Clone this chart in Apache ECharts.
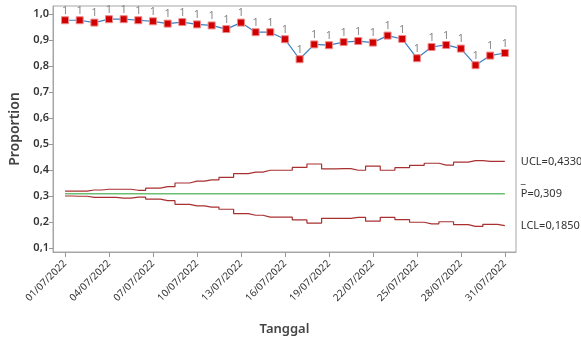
<!DOCTYPE html>
<html>
<head>
<meta charset="utf-8">
<script src="https://cdn.jsdelivr.net/npm/echarts@6/dist/echarts.min.js"></script>
<style>html,body{margin:0;padding:0;background:#fff}#c{width:581px;height:342px}</style>
</head>
<body>
<div id="c"></div>
<script>
const days = [1,2,3,4,5,6,7,8,9,10,11,12,13,14,15,16,17,18,19,20,21,22,23,24,25,26,27,28,29,30,31];
const proportion = [0.976,0.976,0.967,0.980,0.980,0.976,0.972,0.963,0.969,0.960,0.956,0.942,0.967,0.930,0.930,0.903,0.826,0.883,0.880,0.892,0.896,0.890,0.917,0.904,0.830,0.873,0.881,0.867,0.803,0.840,0.850];
const ucl = [0.319,0.319,0.323,0.326,0.326,0.322,0.330,0.336,0.350,0.357,0.362,0.372,0.386,0.392,0.399,0.399,0.410,0.423,0.404,0.405,0.399,0.415,0.399,0.409,0.418,0.426,0.419,0.430,0.436,0.433,0.433];
const lcl = [0.300,0.299,0.295,0.295,0.292,0.296,0.288,0.282,0.268,0.262,0.257,0.249,0.232,0.226,0.219,0.219,0.208,0.196,0.214,0.214,0.218,0.203,0.218,0.209,0.199,0.193,0.201,0.190,0.183,0.191,0.186];
const centerP = 0.309;
const yTicks = [0.1,0.2,0.3,0.4,0.5,0.6,0.7,0.8,0.9,1.0];
const yTickLabels = ['0,1','0,2','0,3','0,4','0,5','0,6','0,7','0,8','0,9','1,0'];
const xTickDays = [1,4,7,10,13,16,19,22,25,28,31];
const xTickLabels = ['01/07/2022','04/07/2022','07/07/2022','10/07/2022','13/07/2022','16/07/2022','19/07/2022','22/07/2022','25/07/2022','28/07/2022','31/07/2022'];
const uclLabel = 'UCL=0,4330';
const centerLabel = 'P=0,309';
const lclLabel = 'LCL=0,1850';
const failLabel = '1';

const pair = (arr) => days.map((d, i) => [d, arr[i]]);
const FONT = 'Noto Sans';

const chart = echarts.init(document.getElementById('c'), null, {renderer: 'canvas'});
chart.setOption({
  animation: false,
  textStyle: {fontFamily: FONT},
  grid: {left: 53, right: 65, top: 6, bottom: 90, show: true, borderColor: '#a6a6a6', borderWidth: 1, backgroundColor: 'transparent', z: 0},
  xAxis: {
    type: 'value', min: 0.18, max: 31.76,
    name: 'Tanggal', nameLocation: 'middle', nameGap: 71,
    nameTextStyle: {fontSize: 13, color: '#444', fontWeight: 600, fontFamily: FONT},
    axisLine: {show: true, lineStyle: {color: '#a6a6a6'}},
    splitLine: {show: false},
    axisTick: {show: true, length: 5, lineStyle: {color: '#999'}, customValues: xTickDays},
    axisLabel: {
      customValues: xTickDays, rotate: 45, fontSize: 10, color: '#333', margin: 10, fontFamily: FONT,
      formatter: (v) => xTickLabels[xTickDays.indexOf(Math.round(v))] || ''
    }
  },
  yAxis: {
    type: 'value', min: 0.0846, max: 1.0308,
    name: 'Proportion', nameLocation: 'middle', nameGap: 30,
    nameTextStyle: {fontSize: 14, color: '#444', fontWeight: 600, fontFamily: FONT},
    axisLine: {show: true, lineStyle: {color: '#a6a6a6'}},
    splitLine: {show: false},
    axisTick: {show: true, length: 4, lineStyle: {color: '#999'}, customValues: yTicks},
    axisLabel: {
      customValues: yTicks, fontSize: 11, color: '#333', margin: 4, fontWeight: 600, fontFamily: FONT,
      formatter: (v) => { const i = yTicks.findIndex(t => Math.abs(t - v) < 1e-6); return i >= 0 ? yTickLabels[i] : ''; }
    }
  },
  series: [
    {
      type: 'line', data: pair(ucl), step: 'middle', symbol: 'none', z: 2,
      lineStyle: {color: '#a93030', width: 1.2},
      endLabel: {show: true, formatter: uclLabel, distance: 16, fontSize: 11, color: '#333', fontFamily: FONT}
    },
    {
      type: 'line', data: pair(lcl), step: 'middle', symbol: 'none', z: 2,
      lineStyle: {color: '#a93030', width: 1.2},
      endLabel: {show: true, formatter: lclLabel, distance: 16, fontSize: 11, color: '#333', fontFamily: FONT}
    },
    {
      type: 'line', data: days.map(d => [d, centerP]), symbol: 'none', z: 2,
      lineStyle: {color: '#6cbf72', width: 1.5},
      endLabel: {show: true, formatter: '_\n' + centerLabel, distance: 16, fontSize: 11, lineHeight: 14, offset: [0, -7], color: '#333', fontFamily: FONT}
    },
    {
      type: 'line', data: pair(proportion), symbol: 'rect', symbolSize: 7, z: 3,
      lineStyle: {color: '#3d7fc4', width: 1.2},
      itemStyle: {color: '#d00000', borderColor: '#ee8a8a', borderWidth: 1},
      label: {show: true, position: 'top', distance: 1, formatter: failLabel, fontSize: 11, lineHeight: 9, color: '#888', fontFamily: FONT}
    }
  ]
});
</script>
</body>
</html>
